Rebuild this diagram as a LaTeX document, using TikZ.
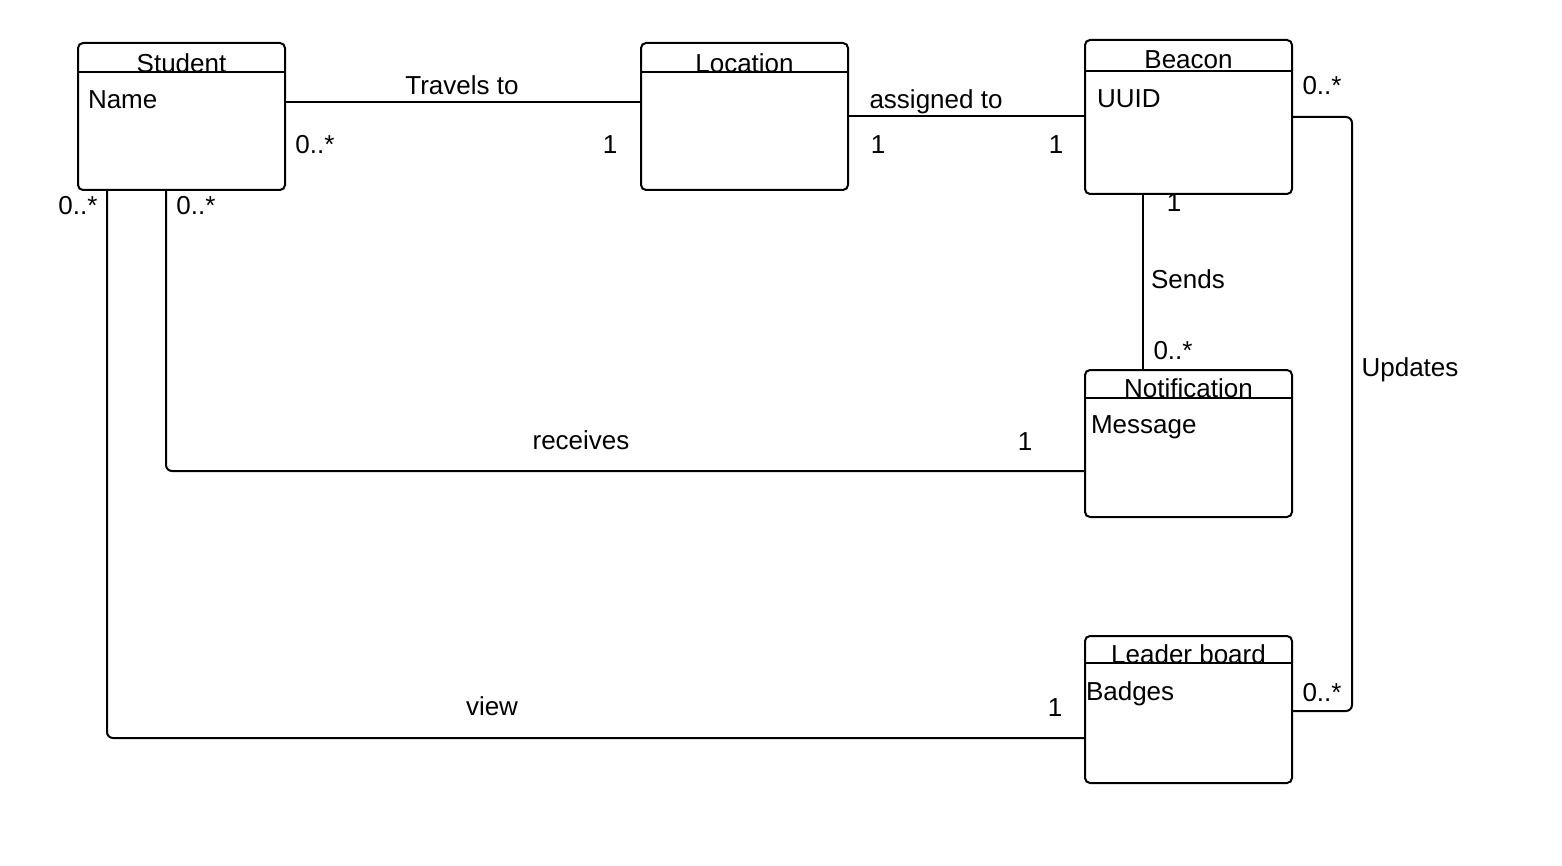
\documentclass[tikz,border=0pt]{standalone}
\usepackage{fontspec}
\setmainfont{Liberation Sans}
\usetikzlibrary{calc}

\begin{document}
\begin{tikzpicture}[x=1pt, y=-1pt, line width=2pt,
                    font=\fontsize{26pt}{31pt}\selectfont,
                    class box/.style={draw, rounded corners=5pt, minimum width=207pt,
                                      minimum height=147pt, inner sep=0pt},
                    class title/.style={anchor=base, inner sep=0pt, yshift=-1.5pt},
                    attr/.style={anchor=base west, inner sep=0pt, yshift=-1.5pt},
                    assoc/.style={anchor=base, inner sep=0pt, yshift=-1.5pt}]
    \useasboundingbox (0,0) rectangle (1562,866);

    % classes
    \node[class box] (student) at (181.5,116.5) {};
    \node[class box] (location) at (744.5,116.5) {};
    \node[class box, minimum height=154pt] (beacon) at (1188.5,117) {};
    \node[class box] (notif) at (1188.5,443.5) {};
    \node[class box] (leader) at (1188.5,709.5) {};

    \foreach \c/\h/\b/\t in {student/30/29/Student, location/30/29/Location,
                             beacon/32/28/Beacon, notif/29/27/Notification,
                             leader/28/27/Leader board} {
        \draw ($(\c.north west)+(0,\h)$) -- ($(\c.north east)+(0,\h)$);
        \node[class title] (\c-title) at ($(\c.north)+(0,\b)$) {\t};
    }

    \node[attr] (student-attr) at ($(student.north west)+(10,65)$) {Name};
    \node[attr] (beacon-attr) at ($(beacon.north west)+(12,67)$) {UUID};
    \node[attr] (notif-attr) at ($(notif.north west)+(6,63)$) {Message};
    \node[attr] (leader-attr) at ($(leader.north west)+(1,64)$) {Badges};

    % associations
    \draw ($(student.north east)+(0,60)$) -- ($(location.north west)+(0,60)$);
    \draw ($(location.north east)+(0,74)$) -- ($(beacon.north west)+(0,77)$);
    \draw ($(beacon.south west)+(59,0)$) -- ($(notif.north west)+(59,0)$);
    \draw[rounded corners=6pt] ($(beacon.north east)+(0,78)$)
        -| ($(leader.north east)+(59,76)$) -- ($(leader.north east)+(0,76)$);
    \draw[rounded corners=6pt] ($(student.south west)+(89,0)$) |- ($(notif.north west)+(0,102)$);
    \draw[rounded corners=6pt] ($(student.south west)+(30,0)$) |- ($(leader.north west)+(0,103)$);

    % labels and multiplicities
    \node[assoc] (travels) at (462,93) {Travels to};
    \node[assoc] (m1) at (315,152) {0..*};
    \node[assoc] (m2) at (610,152) {1};
    \node[assoc] (assigned) at (936,107) {assigned to};
    \node[assoc] (m3) at (878,152) {1};
    \node[assoc] (m4) at (1056,152) {1};
    \node[assoc] (m5) at (1322,93) {0..*};
    \node[assoc] (m6) at (1174,210) {1};
    \node[assoc] (sends) at (1188,287) {Sends};
    \node[assoc] (m7) at (1173,358) {0..*};
    \node[assoc] (updates) at (1410,375) {Updates};
    \node[assoc] (m8) at (1322,700) {0..*};
    \node[assoc] (m9) at (78,213) {0..*};
    \node[assoc] (m10) at (196,213) {0..*};
    \node[assoc] (receives) at (581,448) {receives};
    \node[assoc] (m11) at (1025,449) {1};
    \node[assoc] (view) at (492,714) {view};
    \node[assoc] (m12) at (1055,715) {1};
\end{tikzpicture}
\end{document}
